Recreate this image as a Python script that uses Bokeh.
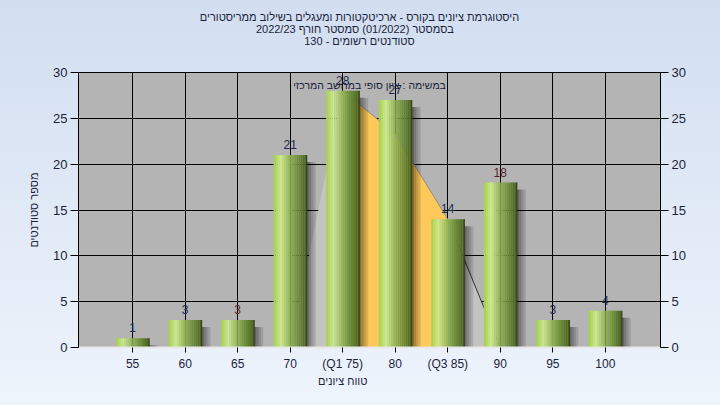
import numpy as np
from bokeh.plotting import figure
from bokeh.models import Range1d, LinearAxis, FixedTicker, Label
from bokeh.core.properties import value
from bokeh.embed import file_html
from bokeh.resources import INLINE

# ---------------- data ----------------
title_lines = [
    "היסטוגרמת ציונים בקורס - ארכיטקטורות ומעגלים בשילוב ממריסטורים",
    "בסמסטר  (01/2022)  סמסטר חורף  2022/23",
    "סטודנטים רשומים - 130",
]
inner_title = "במשימה : ציון סופי במחשב המרכזי"
x_title = "טווח ציונים"
y_title = "מספר סטודנטים"

categories = ["55", "60", "65", "70", "(Q1 75)", "80", "(Q3 85)", "90", "95", "100"]
counts = [1, 3, 3, 21, 28, 27, 14, 18, 3, 4]
label_colors = ["#1d2b4f", "#1d2b4f", "#5a2a2a", "#1d2b4f", "#1d2b4f",
                "#1d2b4f", "#1d2b4f", "#5e1f2c", "#1d2b4f", "#1d2b4f"]

area_categories = ["70", "(Q1 75)", "80", "(Q3 85)", "90"]
area_values = [0, 28, 23.3, 14, 0]
quartile_categories = ["(Q1 75)", "80", "(Q3 85)"]

y_ticks = [0, 5, 10, 15, 20, 25, 30]

# ---------------- style ----------------
FONT = "Liberation Sans"
TXT = "#1b1f3b"
idx = {c: i for i, c in enumerate(categories)}

W, H = 720, 405
FL, FR, FT, FB = 78, 660, 72, 347   # frame edges in pixels
p = figure(width=W, height=H,
           x_range=Range1d(-1.03, 10.05), y_range=Range1d(0, 30),
           output_backend="svg", toolbar_location=None,
           min_border_left=FL, min_border_right=W - FR,
           min_border_top=FT, min_border_bottom=H - FB)
p.styles = {"background": "linear-gradient(to bottom, #d2def0, #eef4fc)"}
p.border_fill_alpha = 0
p.background_fill_color = "#b4b4b4"
p.outline_line_color = "black"
p.outline_line_width = 1

px_x = (10.05 + 1.03) / (FR - FL)
px_y = 30.0 / (FB - FT)

# grids
p.xgrid.ticker = FixedTicker(ticks=list(range(len(categories))))
p.ygrid.ticker = FixedTicker(ticks=y_ticks)
for g in (p.xgrid, p.ygrid):
    g.grid_line_color = "black"
    g.grid_line_width = 1

# axes
xa = p.xaxis[0]
xa.ticker = FixedTicker(ticks=list(range(len(categories))))
xa.major_label_overrides = {i: c for i, c in enumerate(categories)}
xa.major_tick_out = 5
xa.major_tick_in = 0
xa.minor_tick_line_color = None
xa.axis_line_color = "#e8e8e8"
xa.axis_line_width = 2
xa.major_tick_line_color = "black"
xa.major_label_standoff = 4
xa.major_label_text_font = FONT
xa.major_label_text_font_size = "12px"
xa.major_label_text_color = TXT

# x axis title as a tick label under category index 4
xt = LinearAxis(ticker=FixedTicker(ticks=[4]), major_label_overrides={4: x_title})
xt.axis_line_color = None
xt.major_tick_line_color = None
xt.minor_tick_line_color = None
xt.major_label_standoff = -5
xt.major_label_text_font = FONT
xt.major_label_text_font_size = "11px"
xt.major_label_text_color = TXT
p.add_layout(xt, "below")

ya = p.yaxis[0]
ry = LinearAxis()
p.add_layout(ry, "right")
for a in (ya, ry):
    a.ticker = FixedTicker(ticks=y_ticks)
    a.major_tick_out = 8
    a.major_tick_in = 0
    a.minor_tick_line_color = None
    a.axis_line_color = "black"
    a.major_tick_line_color = "black"
    a.major_label_standoff = 3
    a.major_label_text_font = FONT
    a.major_label_text_font_size = "13px"
    a.major_label_text_color = TXT
ya.axis_label = y_title
ya.axis_label_text_font = FONT
ya.axis_label_text_font_size = "11px"
ya.axis_label_text_font_style = "normal"
ya.axis_label_text_color = TXT
ya.axis_label_standoff = 10

# titles as tick labels of axes above, on a helper range
tc = 359.0
p.extra_x_ranges = {"title": Range1d(-(tc - FL) / (FR - FL), (FR - tc) / (FR - FL))}
standoffs = [26, -3, -3]
for t, so in zip(reversed(title_lines), standoffs):
    ta = LinearAxis(x_range_name="title", ticker=FixedTicker(ticks=[0]),
                    major_label_overrides={0: t})
    ta.axis_line_color = None
    ta.major_tick_line_color = None
    ta.minor_tick_line_color = None
    ta.major_tick_out = 0
    ta.major_tick_in = 0
    ta.major_label_standoff = so
    ta.major_label_text_font = FONT
    ta.major_label_text_font_size = "11px"
    ta.major_label_text_color = TXT
    p.add_layout(ta, "above")

# ---------------- area (frequency polygon) ----------------
ax = [idx[c] for c in area_categories]
p.patch(ax, area_values, fill_color="#c3c3c3", line_color=None)

qx = [idx[c] for c in quartile_categories]
qv = [area_values[area_categories.index(c)] for c in quartile_categories]
p.patch([qx[0]] + qx + [qx[-1]], [0] + qv + [0],
        fill_color="#fec85a", line_color=None)
p.line(qx, qv, line_color="#6a6a6a", line_width=1, line_alpha=0.6)

tail = area_categories.index(quartile_categories[-1])
p.line(ax[tail:], area_values[tail:], line_color="#333333", line_width=1)

# ---------------- bars ----------------
bw = 0.63
xs = np.arange(len(categories), dtype=float)
cv = np.array(counts, dtype=float)

sh_alpha = [0.45, 0.33, 0.22, 0.12]
sw = 9 * px_x / len(sh_alpha)
for k, a in enumerate(sh_alpha):
    left = xs + bw / 2 + k * sw
    top = np.maximum(cv - 7 * px_y, 0)
    p.quad(left=left, right=left + sw, bottom=0, top=top,
           fill_color="black", fill_alpha=a, line_color=None)

stops_t = [0.0, 0.22, 0.5, 0.8, 1.0]
stops_c = [(164, 208, 72), (204, 232, 144), (146, 178, 88), (100, 130, 52), (72, 96, 30)]
N = 16
sw_b = bw / N
for k in range(N):
    t = (k + 0.5) / N
    rgb = [int(np.interp(t, stops_t, [c[j] for c in stops_c])) for j in range(3)]
    col = "#%02x%02x%02x" % tuple(rgb)
    left = xs - bw / 2 + k * sw_b
    p.quad(left=left, right=left + sw_b + 0.002, bottom=0, top=cv,
           fill_color=col, line_color=None)
p.segment(x0=xs + bw / 2, y0=0, x1=xs + bw / 2, y1=cv, line_color="#2e3a14", line_width=1)

p.text(x=xs, y=cv, text=[str(c) for c in counts], text_align="center",
       text_baseline="bottom", y_offset=-6, text_font=value(FONT),
       text_font_size="12px", text_color=label_colors)

p.add_layout(Label(x=4.51, y=28.69, text=inner_title, text_align="center",
                   text_baseline="middle", text_font=FONT, text_font_size="10.5px",
                   text_color=TXT))

open("out.html", "w").write(file_html(p, INLINE))
